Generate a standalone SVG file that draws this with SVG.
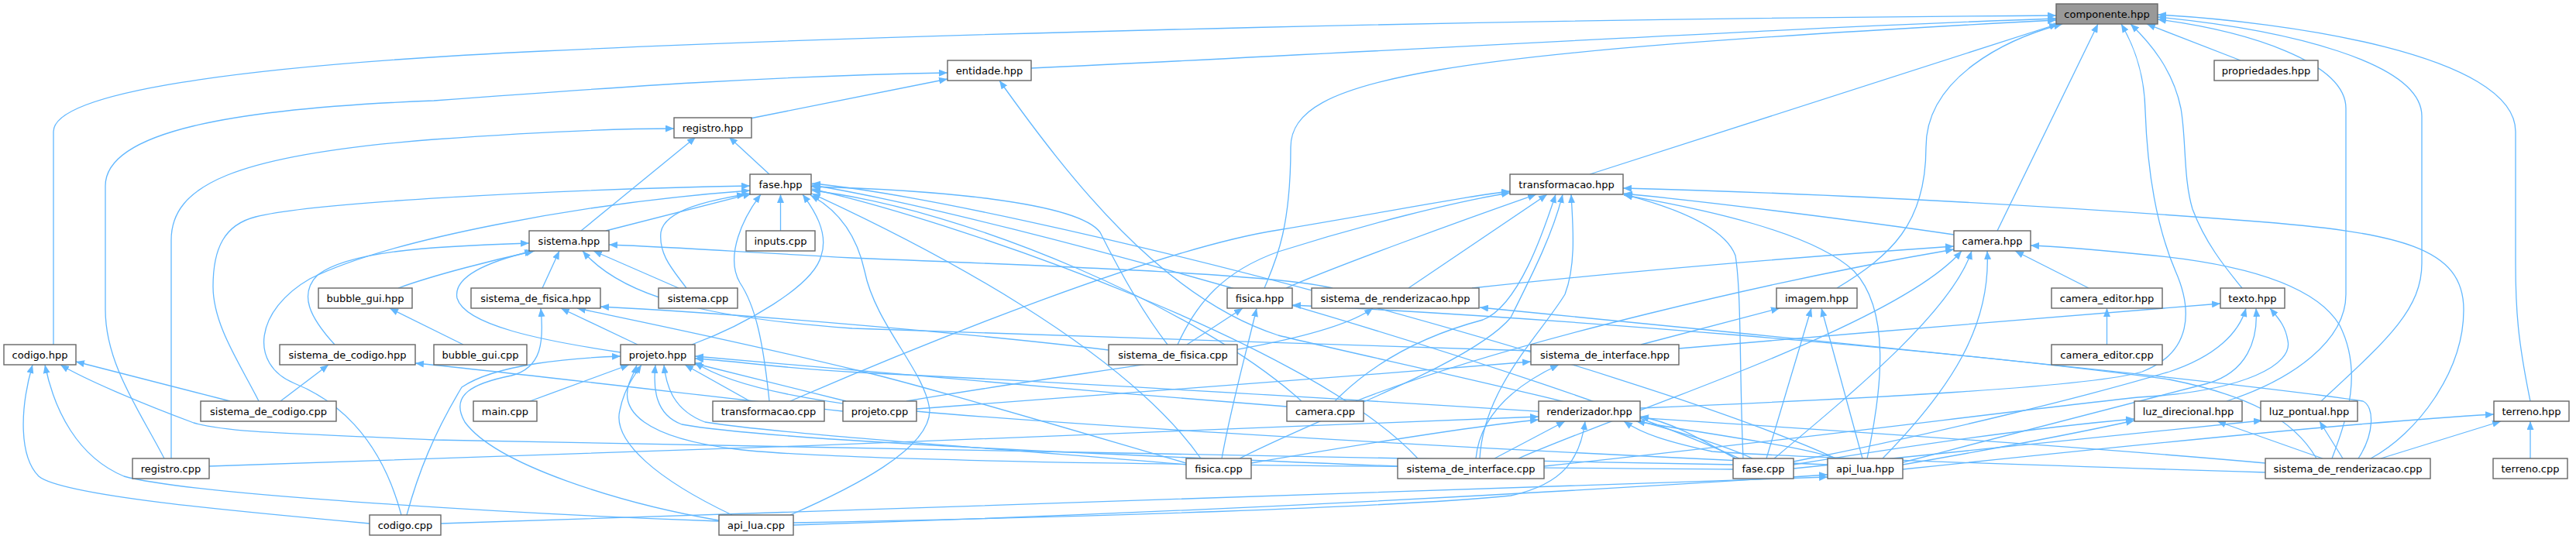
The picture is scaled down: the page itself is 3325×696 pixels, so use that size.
<svg xmlns="http://www.w3.org/2000/svg" width="3325" height="696" viewBox="0 0 3325 696">
<defs>
<style>
.n rect{fill:#ffffff;stroke:#666666;stroke-width:1.4}
.n.root rect{fill:#999999}
.n text{font-family:"DejaVu Sans","Liberation Sans",sans-serif;font-size:13px;fill:#000000;text-anchor:middle}
#edges path{fill:none;stroke:#63b8ff;stroke-width:1.3;marker-end:url(#arr)}
</style>
<marker id="arr" viewBox="0 0 11 9" refX="11" refY="4.5" markerWidth="11" markerHeight="9" markerUnits="userSpaceOnUse" orient="auto"><path d="M0,0 L11,4.5 L0,9 z" fill="#63b8ff"/></marker>
</defs>
<rect x="0" y="0" width="3325" height="696" fill="#ffffff"/>
<g id="edges">
<path d="M69,445 L69,170 C69,120 300,85 700,66 C1200,42 2000,24 2654,20"/>
<path d="M1331,88 C1800,66 2300,36 2654,24"/>
<path d="M2892,78 L2771,31"/>
<path d="M2052,225 L2656,31"/>
<path d="M2371,372 C2440,330 2486,290 2486,190 C2486,100 2590,50 2662,31"/>
<path d="M2578,298 L2708,31"/>
<path d="M1632,372 C1645,340 1666,300 1666,190 C1666,100 1850,68 2654,26"/>
<path d="M2117,527 C2400,515 2700,500 2765,480 C2830,455 2830,400 2808,350 C2778,280 2771,200 2769,143 C2768,90 2752,55 2738,31"/>
<path d="M2894,372 C2878,352 2848,318 2830,270 C2818,230 2822,180 2815,140 C2805,90 2775,55 2750,31"/>
<path d="M2874,518 C2960,490 3028,440 3028,380 L3028,140 C3028,80 2900,40 2785,25"/>
<path d="M2996,518 C3080,440 3126,400 3126,340 L3126,150 C3126,80 2950,38 2785,22"/>
<path d="M3266,518 C3250,440 3247,400 3247,340 L3247,170 C3247,70 2950,28 2785,19"/>
<path d="M968,153 L1223,102"/>
<path d="M212,592 C180,530 136,470 136,400 L136,240 C136,170 300,140 560,130 C800,112 1000,98 1223,94"/>
<path d="M2262,592 C2150,540 1800,470 1650,433 C1500,385 1380,230 1290,104"/>
<path d="M993,225 L941,177"/>
<path d="M750,298 L898,177"/>
<path d="M221,592 L221,310 C221,240 300,200 560,180 C700,170 800,166 870,166"/>
<path d="M782,298 L970,250"/>
<path d="M1007.5,298 L1007.5,251"/>
<path d="M886,372 C870,350 850,330 853,300 C858,270 920,258 962,251"/>
<path d="M334,518 C310,470 275,420 275,370 C275,320 290,290 330,280 C400,262 700,245 968,240"/>
<path d="M893,445 C960,420 1050,370 1060,330 C1070,300 1050,270 1036,251"/>
<path d="M518,665 C490,560 430,515 380,495 C320,470 330,400 400,360 C500,310 750,262 968,246"/>
<path d="M1507,445 C1480,410 1450,360 1420,300 C1390,260 1200,245 1047,241"/>
<path d="M993,518 C985,440 975,395 955,365 C935,330 960,280 982,251"/>
<path d="M1680,518 C1550,400 1250,270 1048,246"/>
<path d="M1550,592 C1450,450 1200,320 1048,250"/>
<path d="M1830,592 C1700,450 1250,290 1048,244"/>
<path d="M2245,592 C2000,480 1300,280 1048,239"/>
<path d="M1020,665 C1100,630 1200,580 1200,530 C1195,480 1130,420 1116,350 C1105,300 1080,270 1046,252"/>
<path d="M2370,592 C2100,470 1300,260 1048,237"/>
<path d="M514,372 C560,355 640,335 690,324"/>
<path d="M700,372 L722,324"/>
<path d="M876,372 L766,324"/>
<path d="M1720,372 C1650,355 1400,345 1100,333 C950,325 850,318 786,316"/>
<path d="M432,445 C400,410 385,380 410,355 C450,325 550,318 683,314"/>
<path d="M1976,453 C1700,445 1300,430 1100,424 C900,410 800,380 752,324"/>
<path d="M801,455 C700,440 600,420 590,385 C585,360 620,340 688,324"/>
<path d="M2522,303 C2400,285 2200,260 2096,250"/>
<path d="M1660,372 C1720,345 1900,280 1983,251"/>
<path d="M1818,372 L1997,251"/>
<path d="M1020,518 C1200,440 1500,320 1650,297 C1800,272 1900,252 1949,247"/>
<path d="M1520,445 C1545,390 1580,350 1650,325 C1760,290 1880,260 1949,249"/>
<path d="M1723,518 C1780,460 1850,430 1914,413 C1960,395 1992,300 2008,251"/>
<path d="M1910,592 C1915,500 1990,430 2020,380 C2035,340 2030,290 2028,251"/>
<path d="M1600,592 C1700,540 1900,470 1950,410 C1980,350 2005,300 2017,251"/>
<path d="M2250,592 C2245,480 2248,380 2240,330 C2225,290 2150,265 2096,251"/>
<path d="M2410,592 C2430,500 2440,400 2393,350 C2340,300 2200,270 2096,252"/>
<path d="M3060,592 C3120,560 3180,480 3180,400 C3180,320 3100,300 2900,285 C2600,262 2300,248 2095,243"/>
<path d="M1900,372 C2100,350 2350,330 2522,318"/>
<path d="M1750,518 C1950,440 2300,360 2522,322"/>
<path d="M2290,592 C2400,500 2520,400 2545,324"/>
<path d="M2430,592 C2520,500 2570,420 2565,324"/>
<path d="M2696,372 L2601,324"/>
<path d="M3010,592 C3030,540 3050,480 3020,420 C2990,370 2900,340 2760,328 C2700,322 2650,318 2621,317"/>
<path d="M1960,592 C2100,530 2450,420 2532,324"/>
<path d="M598,445 L503,398"/>
<path d="M823,445 L724,398"/>
<path d="M1431,452 C1250,430 950,405 775,396"/>
<path d="M928,672 C800,650 640,600 600,545 C580,510 610,495 660,485 C700,475 702,440 698,398"/>
<path d="M1531,598 C1400,560 1200,500 1110,479 C950,440 800,410 745,398"/>
<path d="M1577,592 C1590,520 1610,450 1622,398"/>
<path d="M1532,445 L1604,398"/>
<path d="M2990,592 C2960,540 2900,510 2800,490 C2500,450 2000,410 1668,394"/>
<path d="M1170,518 C1450,470 1700,450 1772,398"/>
<path d="M3044,592 C3065,560 3065,525 3050,518 C2900,495 2400,445 1910,397"/>
<path d="M1088,531 C900,510 650,480 536,469"/>
<path d="M362,518 L424,471"/>
<path d="M297,518 L98,467"/>
<path d="M477,676 C300,660 80,640 50,615 C25,590 25,530 42,471"/>
<path d="M928,673 C700,665 250,640 160,615 C100,590 70,530 58,471"/>
<path d="M2237,600 C1800,590 800,575 560,568 C400,560 300,560 250,546 C180,520 110,490 78,471"/>
<path d="M525,665 C540,610 560,560 596,500 C640,470 740,462 801,460"/>
<path d="M684,518 L812,471"/>
<path d="M945,665 C850,620 790,570 800,530 C805,505 815,490 828,471"/>
<path d="M968,518 L884,471"/>
<path d="M1092,518 L895,469"/>
<path d="M1661,525 C1400,505 1100,478 897,460"/>
<path d="M1531,600 C1300,580 1000,560 910,545 C870,530 860,500 857,471"/>
<path d="M1804,602 C1500,590 1000,570 880,548 C845,535 843,500 846,471"/>
<path d="M2237,606 C1700,602 1100,598 950,580 C830,565 800,530 812,495 C816,485 820,478 822,471"/>
<path d="M2359,600 C1900,580 1300,545 1110,524 C1000,510 930,490 897,468"/>
<path d="M2924,598 C2500,560 1500,500 1110,481 C1000,475 950,466 897,463"/>
<path d="M1183,528 C1400,510 1700,490 1976,467"/>
<path d="M1905,592 C1910,540 1950,500 2012,471"/>
<path d="M2118,445 L2297,398"/>
<path d="M2280,592 L2338,398"/>
<path d="M2404,592 L2351,398"/>
<path d="M2167,450 C2400,430 2700,405 2866,392"/>
<path d="M2315,596 C2500,560 2700,510 2800,480 C2860,460 2890,430 2899,398"/>
<path d="M2456,597 C2600,560 2750,520 2850,495 C2900,480 2915,440 2912,398"/>
<path d="M1993,602 C2300,570 2600,530 2760,513 C2900,505 2960,470 2953,440 C2950,420 2940,410 2930,398"/>
<path d="M270,602 C800,585 1500,560 1986,538"/>
<path d="M1615,598 C1750,575 1900,550 1986,542"/>
<path d="M1929,592 L2020,544"/>
<path d="M1024,675 C1400,668 1800,655 1950,640 C2020,625 2040,590 2046,544"/>
<path d="M2240,592 C2200,570 2160,545 2117,538"/>
<path d="M2370,592 C2320,575 2200,560 2112,544"/>
<path d="M2924,610 C2600,600 2300,590 2210,583 C2150,570 2120,560 2096,544"/>
<path d="M2315,600 C2500,570 2650,550 2755,541"/>
<path d="M2456,600 C2600,575 2700,555 2755,543"/>
<path d="M2998,592 L2862,544"/>
<path d="M2315,605 C2600,575 2800,555 2920,543"/>
<path d="M3024,592 L2994,544"/>
<path d="M2456,606 C2800,570 3050,545 3219,535"/>
<path d="M3073,592 L3228,544"/>
<path d="M3266,592 L3266,544"/>
<path d="M1024,678 C1600,660 2100,630 2359,613"/>
<path d="M569,676 C1200,655 2000,630 2359,616"/>
<path d="M2719.5,445 L2719.5,398"/>
</g>
<g id="n_componente_hpp" class="n root"><rect x="2654" y="5" width="131" height="26"/><text x="2719.5" y="22.5">componente.hpp</text></g>
<g id="n_entidade_hpp" class="n"><rect x="1223" y="78" width="108" height="26"/><text x="1277" y="95.5">entidade.hpp</text></g>
<g id="n_propriedades_hpp" class="n"><rect x="2858" y="78" width="134" height="26"/><text x="2925" y="95.5">propriedades.hpp</text></g>
<g id="n_registro_hpp" class="n"><rect x="870" y="152" width="100" height="26"/><text x="920" y="169.5">registro.hpp</text></g>
<g id="n_fase_hpp" class="n"><rect x="968" y="225" width="79" height="26"/><text x="1007.5" y="242.5">fase.hpp</text></g>
<g id="n_transformacao_hpp" class="n"><rect x="1949" y="225" width="146" height="26"/><text x="2022" y="242.5">transformacao.hpp</text></g>
<g id="n_sistema_hpp" class="n"><rect x="683" y="298" width="103" height="26"/><text x="734.5" y="315.5">sistema.hpp</text></g>
<g id="n_inputs_cpp" class="n"><rect x="963" y="298" width="89" height="26"/><text x="1007.5" y="315.5">inputs.cpp</text></g>
<g id="n_camera_hpp" class="n"><rect x="2522" y="298" width="99" height="26"/><text x="2571.5" y="315.5">camera.hpp</text></g>
<g id="n_bubble_gui_hpp" class="n"><rect x="411" y="372" width="121" height="26"/><text x="471.5" y="389.5">bubble_gui.hpp</text></g>
<g id="n_sistema_de_fisica_hpp" class="n"><rect x="608" y="372" width="167" height="26"/><text x="691.5" y="389.5">sistema_de_fisica.hpp</text></g>
<g id="n_sistema_cpp" class="n"><rect x="850" y="372" width="102" height="26"/><text x="901" y="389.5">sistema.cpp</text></g>
<g id="n_fisica_hpp" class="n"><rect x="1584" y="372" width="84" height="26"/><text x="1626" y="389.5">fisica.hpp</text></g>
<g id="n_sistema_de_renderizacao_hpp" class="n"><rect x="1693" y="372" width="216" height="26"/><text x="1801" y="389.5">sistema_de_renderizacao.hpp</text></g>
<g id="n_imagem_hpp" class="n"><rect x="2293" y="372" width="104" height="26"/><text x="2345" y="389.5">imagem.hpp</text></g>
<g id="n_camera_editor_hpp" class="n"><rect x="2648" y="372" width="143" height="26"/><text x="2719.5" y="389.5">camera_editor.hpp</text></g>
<g id="n_texto_hpp" class="n"><rect x="2866" y="372" width="83" height="26"/><text x="2907.5" y="389.5">texto.hpp</text></g>
<g id="n_codigo_hpp" class="n"><rect x="5" y="445" width="93" height="26"/><text x="51.5" y="462.5">codigo.hpp</text></g>
<g id="n_sistema_de_codigo_hpp" class="n"><rect x="361" y="445" width="175" height="26"/><text x="448.5" y="462.5">sistema_de_codigo.hpp</text></g>
<g id="n_bubble_gui_cpp" class="n"><rect x="560" y="445" width="120" height="26"/><text x="620" y="462.5">bubble_gui.cpp</text></g>
<g id="n_projeto_hpp" class="n"><rect x="801" y="445" width="96" height="26"/><text x="849" y="462.5">projeto.hpp</text></g>
<g id="n_sistema_de_fisica_cpp" class="n"><rect x="1431" y="445" width="166" height="26"/><text x="1514" y="462.5">sistema_de_fisica.cpp</text></g>
<g id="n_sistema_de_interface_hpp" class="n"><rect x="1976" y="445" width="191" height="26"/><text x="2071.5" y="462.5">sistema_de_interface.hpp</text></g>
<g id="n_camera_editor_cpp" class="n"><rect x="2648" y="445" width="143" height="26"/><text x="2719.5" y="462.5">camera_editor.cpp</text></g>
<g id="n_sistema_de_codigo_cpp" class="n"><rect x="259" y="518" width="175" height="26"/><text x="346.5" y="535.5">sistema_de_codigo.cpp</text></g>
<g id="n_main_cpp" class="n"><rect x="611" y="518" width="82" height="26"/><text x="652" y="535.5">main.cpp</text></g>
<g id="n_transformacao_cpp" class="n"><rect x="920" y="518" width="144" height="26"/><text x="992" y="535.5">transformacao.cpp</text></g>
<g id="n_projeto_cpp" class="n"><rect x="1088" y="518" width="95" height="26"/><text x="1135.5" y="535.5">projeto.cpp</text></g>
<g id="n_camera_cpp" class="n"><rect x="1661" y="518" width="99" height="26"/><text x="1710.5" y="535.5">camera.cpp</text></g>
<g id="n_renderizador_hpp" class="n"><rect x="1986" y="518" width="131" height="26"/><text x="2051.5" y="535.5">renderizador.hpp</text></g>
<g id="n_luz_direcional_hpp" class="n"><rect x="2755" y="518" width="139" height="26"/><text x="2824.5" y="535.5">luz_direcional.hpp</text></g>
<g id="n_luz_pontual_hpp" class="n"><rect x="2918" y="518" width="125" height="26"/><text x="2980.5" y="535.5">luz_pontual.hpp</text></g>
<g id="n_terreno_hpp" class="n"><rect x="3219" y="518" width="97" height="26"/><text x="3267.5" y="535.5">terreno.hpp</text></g>
<g id="n_registro_cpp" class="n"><rect x="171" y="592" width="99" height="26"/><text x="220.5" y="609.5">registro.cpp</text></g>
<g id="n_fisica_cpp" class="n"><rect x="1531" y="592" width="84" height="26"/><text x="1573" y="609.5">fisica.cpp</text></g>
<g id="n_sistema_de_interface_cpp" class="n"><rect x="1804" y="592" width="189" height="26"/><text x="1898.5" y="609.5">sistema_de_interface.cpp</text></g>
<g id="n_fase_cpp" class="n"><rect x="2237" y="592" width="78" height="26"/><text x="2276" y="609.5">fase.cpp</text></g>
<g id="n_api_lua_hpp" class="n"><rect x="2359" y="592" width="97" height="26"/><text x="2407.5" y="609.5">api_lua.hpp</text></g>
<g id="n_sistema_de_renderizacao_cpp" class="n"><rect x="2924" y="592" width="213" height="26"/><text x="3030.5" y="609.5">sistema_de_renderizacao.cpp</text></g>
<g id="n_terreno_cpp" class="n"><rect x="3218" y="592" width="96" height="26"/><text x="3266" y="609.5">terreno.cpp</text></g>
<g id="n_codigo_cpp" class="n"><rect x="477" y="665" width="92" height="26"/><text x="523" y="682.5">codigo.cpp</text></g>
<g id="n_api_lua_cpp" class="n"><rect x="928" y="665" width="96" height="26"/><text x="976" y="682.5">api_lua.cpp</text></g>
</svg>
